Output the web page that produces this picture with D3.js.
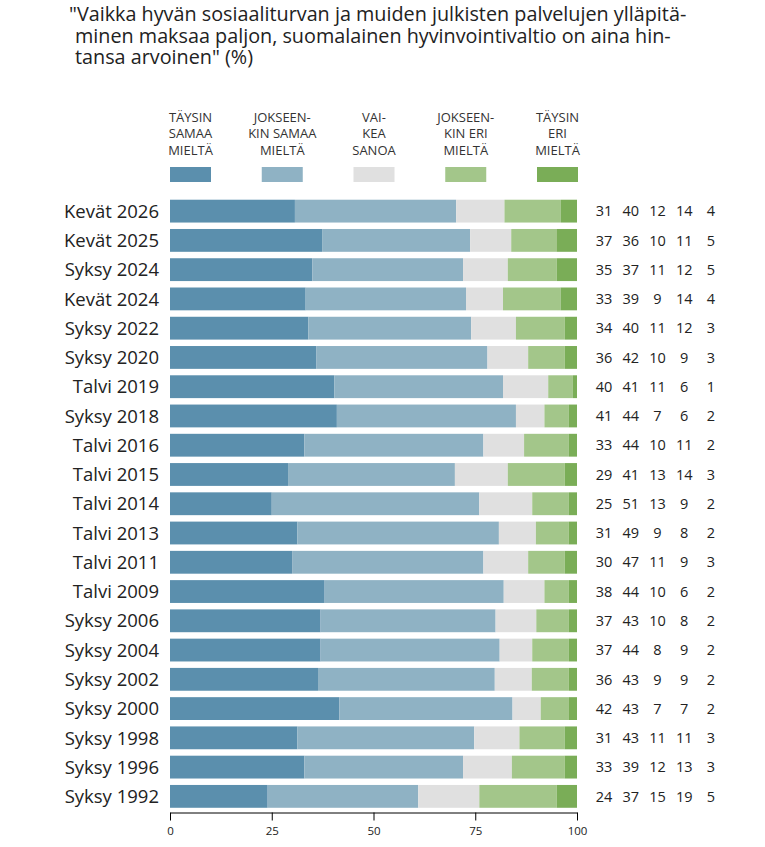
<!DOCTYPE html>
<html>
<head>
<meta charset="utf-8">
<script src="https://cdn.jsdelivr.net/npm/d3@7"></script>
<style>
  body { margin: 0; background: #fff; }
  text { font-family: "Open Sans", sans-serif; }
</style>
</head>
<body>
<div id="chart"></div>
<script>
var titleLines = ["\"Vaikka hyvän sosiaaliturvan ja muiden julkisten palvelujen ylläpitä-",
                  "minen maksaa paljon, suomalainen hyvinvointivaltio on aina hin-",
                  "tansa arvoinen\" (%)"];

var categories = ["Kevät 2026", "Kevät 2025", "Syksy 2024", "Kevät 2024", "Syksy 2022",
                  "Syksy 2020", "Talvi 2019", "Syksy 2018", "Talvi 2016", "Talvi 2015",
                  "Talvi 2014", "Talvi 2013", "Talvi 2011", "Talvi 2009", "Syksy 2006",
                  "Syksy 2004", "Syksy 2002", "Syksy 2000", "Syksy 1998", "Syksy 1996",
                  "Syksy 1992"];

var seriesNames = [["TÄYSIN", "SAMAA", "MIELTÄ"],
                   ["JOKSEEN-", "KIN SAMAA", "MIELTÄ"],
                   ["VAI-", "KEA", "SANOA"],
                   ["JOKSEEN-", "KIN ERI", "MIELTÄ"],
                   ["TÄYSIN", "ERI", "MIELTÄ"]];

var taysinSamaa   = [31, 37, 35, 33, 34, 36, 40, 41, 33, 29, 25, 31, 30, 38, 37, 37, 36, 42, 31, 33, 24];
var jokseenSamaa  = [40, 36, 37, 39, 40, 42, 41, 44, 44, 41, 51, 49, 47, 44, 43, 44, 43, 43, 43, 39, 37];
var vaikeaSanoa   = [12, 10, 11,  9, 11, 10, 11,  7, 10, 13, 13,  9, 11, 10, 10,  8,  9,  7, 11, 12, 15];
var jokseenEri    = [14, 11, 12, 14, 12,  9,  6,  6, 11, 14,  9,  8,  9,  6,  8,  9,  9,  7, 11, 13, 19];
var taysinEri     = [ 4,  5,  5,  4,  3,  3,  1,  2,  2,  3,  2,  2,  3,  2,  2,  2,  2,  2,  3,  3,  5];

var xTicks = [0, 25, 50, 75, 100];

var colors = ["#5b8fad", "#8fb2c4", "#e0e0e0", "#a3c68a", "#7aad57"];

var series = [taysinSamaa, jokseenSamaa, vaikeaSanoa, jokseenEri, taysinEri];

var width = 765, height = 847;

var svg = d3.select("#chart").append("svg")
    .attr("width", width)
    .attr("height", height);

// title
svg.append("g").selectAll("text")
    .data(titleLines)
    .enter().append("text")
    .attr("x", function(d, i) { return i === 0 ? 69 : 75; })
    .attr("y", function(d, i) { return 21 + i * 21.7; })
    .attr("font-size", 19.8)
    .attr("fill", "#222")
    .text(function(d) { return d; });

// rows: each value as share of its row total so bars end at 100
var rows = categories.map(function(c, i) {
    var vals = series.map(function(s) { return s[i]; });
    var total = d3.sum(vals);
    var acc = 0;
    return {
        cat: c,
        vals: vals,
        segs: vals.map(function(v, k) {
            var seg = { k: k, x0: acc, x1: acc + v * 100 / total };
            acc = seg.x1;
            return seg;
        })
    };
});

var x = d3.scaleLinear().domain([0, 100]).range([170, 577]);
var y = d3.scaleBand().domain(categories).range([196.5, 811]).paddingInner(0.22).paddingOuter(0.11);

// legend
var legendX = d3.scalePoint().domain(d3.range(seriesNames.length)).range([190.5, 557.5]);
var legend = svg.append("g").selectAll("g")
    .data(seriesNames)
    .enter().append("g")
    .attr("transform", function(d, i) { return "translate(" + legendX(i) + ",0)"; });

legend.selectAll("text")
    .data(function(d) { return d; })
    .enter().append("text")
    .attr("x", 0)
    .attr("y", function(d, i) { return 121.5 + i * 16.5; })
    .attr("text-anchor", "middle")
    .attr("font-size", 13)
    .attr("fill", "#333")
    .text(function(d) { return d; });

legend.append("rect")
    .attr("x", -20.5)
    .attr("y", 167)
    .attr("width", 41)
    .attr("height", 15)
    .attr("fill", function(d, i) { return colors[i]; });

// bars
var rowG = svg.append("g").selectAll("g")
    .data(rows)
    .enter().append("g")
    .attr("transform", function(d) { return "translate(0," + y(d.cat) + ")"; });

rowG.selectAll("rect")
    .data(function(d) { return d.segs; })
    .enter().append("rect")
    .attr("x", function(d) { return x(d.x0); })
    .attr("width", function(d) { return x(d.x1) - x(d.x0); })
    .attr("y", 0)
    .attr("height", y.bandwidth())
    .attr("fill", function(d) { return colors[d.k]; });

// category labels
rowG.append("text")
    .attr("x", 159)
    .attr("y", y.bandwidth() / 2)
    .attr("dy", "0.36em")
    .attr("text-anchor", "end")
    .attr("font-size", 18.5)
    .attr("fill", "#222")
    .text(function(d) { return d.cat; });

// value columns
var colX = d3.scalePoint().domain(d3.range(5)).range([604, 711]);
rowG.selectAll(".val")
    .data(function(d) { return d.vals; })
    .enter().append("text")
    .attr("class", "val")
    .attr("x", function(d, i) { return colX(i); })
    .attr("y", y.bandwidth() / 2)
    .attr("dy", "0.36em")
    .attr("text-anchor", "middle")
    .attr("font-size", 14.5)
    .attr("fill", "#222")
    .text(function(d) { return d; });

// x axis
var axis = svg.append("g")
    .attr("transform", "translate(0,812.5)")
    .call(d3.axisBottom(x).tickValues(xTicks).tickSize(8).tickSizeOuter(0).tickPadding(6));

axis.select(".domain").attr("stroke", "#000");
axis.selectAll(".tick line").attr("stroke", "#000");
axis.selectAll(".tick text")
    .attr("font-family", "Open Sans, sans-serif")
    .attr("font-size", 11.5)
    .attr("fill", "#222");
</script>
</body>
</html>
